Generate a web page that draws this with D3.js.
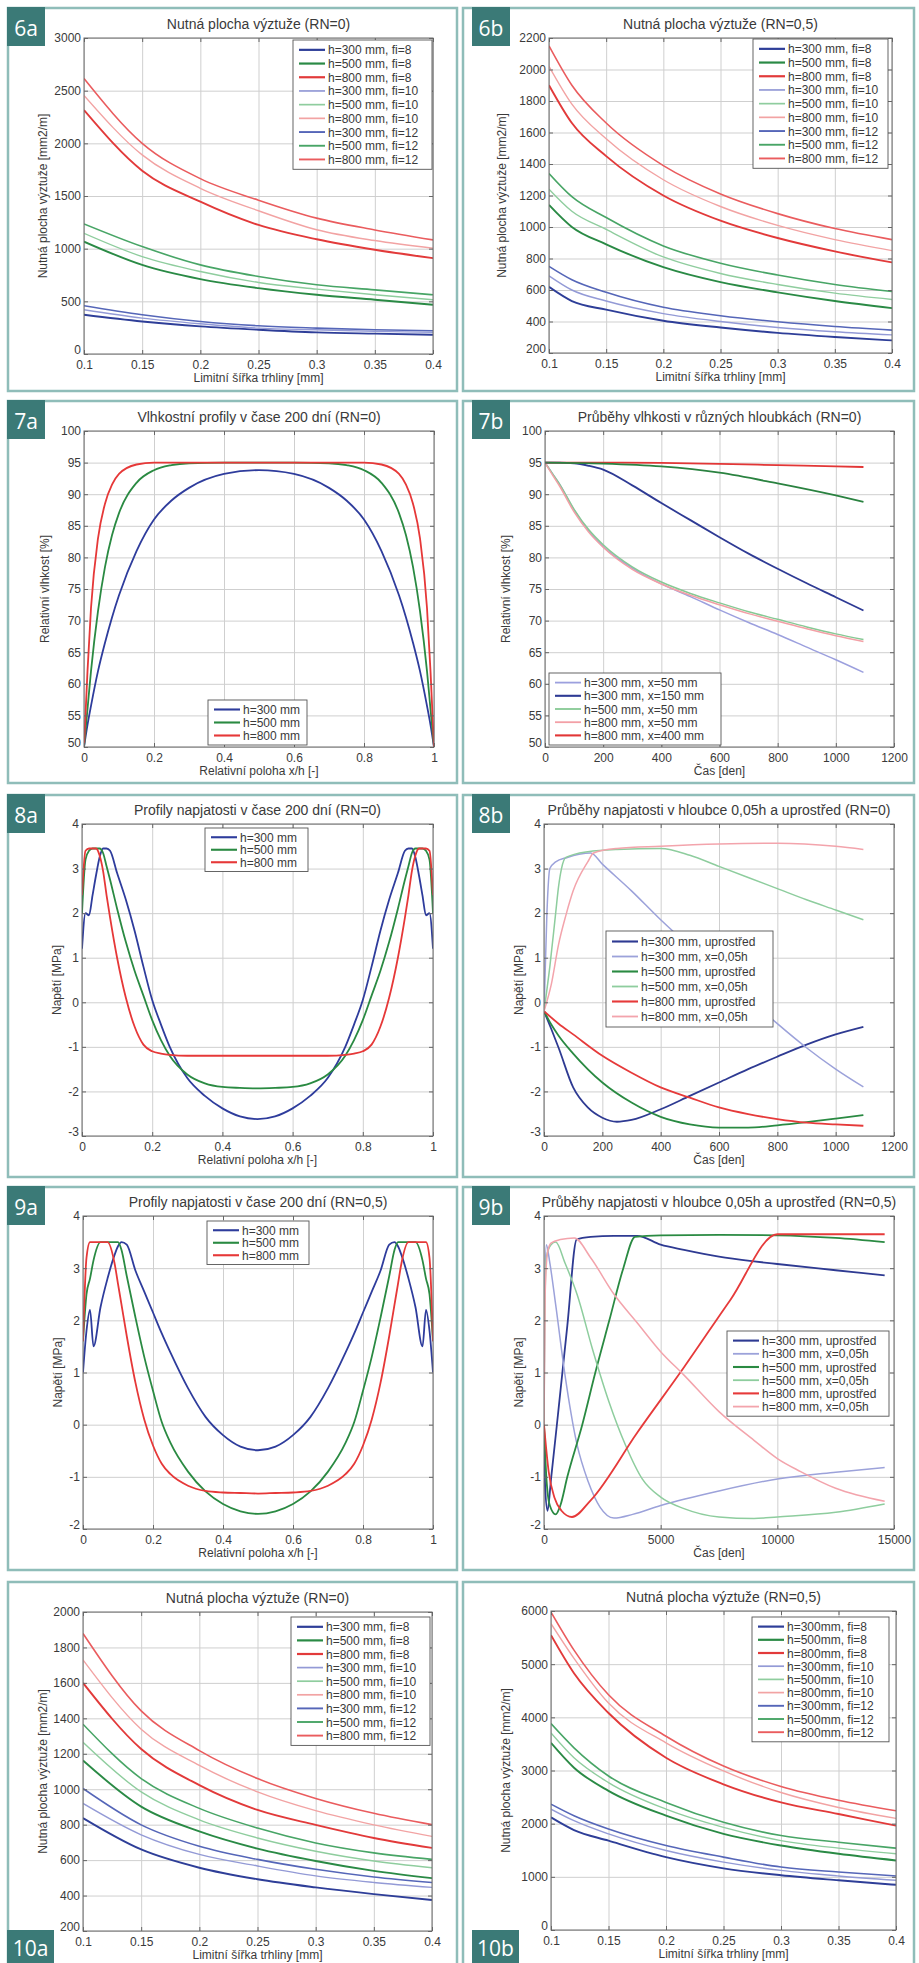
<!DOCTYPE html>
<html>
<head>
<meta charset="utf-8">
<script src="https://cdn.jsdelivr.net/npm/d3@7"></script>
<style>
body { margin: 0; background: #fff; }
text { font-family: "Liberation Sans", Arial, sans-serif; fill: #3a3a3a; }
.grid line { stroke: #cfcfcf; stroke-width: 1; }
.grid .domain { display: none; }
.ax .domain { display: none; }
.ax line { stroke: #666; }
.ax text { font-size: 12px; fill: #3a3a3a; }
.lbl text { font-family: "Open Sans", sans-serif; fill: #fff; }
</style>
</head>
<body>
<script>
// ---------- data ----------
// crack width axis (6a, 10a)
var xCrack = [0.1, 0.15, 0.2, 0.25, 0.3, 0.35, 0.4];
// crack width axis with the kink at 0.12 (6b, 10b)
var xCrackK = [0.1, 0.12, 0.15, 0.2, 0.25, 0.3, 0.35, 0.4];

// 6a  Nutna plocha vyztuze (RN=0)
var a6_300_8 = [373, 309, 262, 230, 205, 193, 183];
var a6_500_8 = [1067, 846, 711, 625, 562, 515, 467];
var a6_800_8 = [2315, 1740, 1446, 1225, 1089, 990, 910];
var a6_300_10 = [420, 341, 287, 246, 230, 215, 205];
var a6_500_10 = [1146, 925, 783, 679, 616, 562, 515];
var a6_800_10 = [2455, 1890, 1573, 1360, 1180, 1077, 1004];
var a6_300_12 = [458, 373, 309, 268, 246, 230, 221];
var a6_500_12 = [1235, 1020, 846, 736, 657, 609, 562];
var a6_800_12 = [2615, 2000, 1665, 1460, 1290, 1178, 1083];

// 6b  Nutna plocha vyztuze (RN=0,5)
var b6_300_8 = [620, 530, 475, 405, 362, 328, 302, 280];
var b6_500_8 = [1140, 1000, 890, 745, 650, 585, 530, 485];
var b6_800_8 = [1900, 1660, 1450, 1200, 1040, 930, 845, 775];
var b6_300_10 = [690, 600, 530, 450, 400, 362, 335, 315];
var b6_500_10 = [1240, 1100, 985, 810, 705, 635, 580, 540];
var b6_800_10 = [2020, 1780, 1560, 1300, 1130, 1010, 920, 850];
var b6_300_12 = [750, 665, 585, 490, 437, 398, 368, 345];
var b6_500_12 = [1340, 1193, 1060, 880, 770, 695, 635, 590];
var b6_800_12 = [2150, 1900, 1660, 1390, 1210, 1085, 990, 920];

// 7a  Vlhkostni profily v case 200 dni
var x7a = [0, 0.01, 0.02, 0.04, 0.06, 0.08, 0.1, 0.15, 0.2, 0.25, 0.3, 0.4, 0.5,
           0.6, 0.7, 0.75, 0.8, 0.85, 0.9, 0.92, 0.94, 0.96, 0.98, 0.99, 1];
var rh7a_300 = [50, 53.5, 56.5, 62, 66.5, 70.5, 74, 81, 86, 89, 91, 93.2, 93.8,
                93.2, 91, 89, 86, 81, 74, 70.5, 66.5, 62, 56.5, 53.5, 50];
var rh7a_500 = [50, 56, 62, 71.5, 78.5, 83.5, 87, 91.8, 93.8, 94.6, 94.9, 95, 95,
                95, 94.9, 94.6, 93.8, 91.8, 87, 83.5, 78.5, 71.5, 62, 56, 50];
var rh7a_800 = [50, 62, 72, 83, 88.5, 91.5, 93.2, 94.7, 95, 95, 95, 95, 95,
                95, 95, 95, 95, 94.7, 93.2, 91.5, 88.5, 83, 72, 62, 50];

// 7b  Prubehy vlhkosti v ruznych hloubkach
var t7 = [0, 25, 50, 100, 150, 200, 300, 400, 500, 600, 700, 800, 900, 1000, 1095];
var rh7b_300_50 = [95, 93.3, 91.6, 87.5, 84.2, 81.7, 78.3, 75.8, 73.8, 71.7, 69.7, 67.8, 65.8, 63.8, 61.8];
var rh7b_500_50 = [95, 93.3, 91.6, 87.6, 84.4, 82.0, 78.5, 76.1, 74.3, 72.8, 71.4, 70.2, 69.0, 67.9, 67.0];
var rh7b_800_50 = [95, 93.1, 91.3, 87.2, 84.0, 81.6, 78.1, 75.8, 74.0, 72.5, 71.1, 69.9, 68.7, 67.6, 66.7];
var t7s = [0, 50, 100, 150, 200, 300, 400, 500, 600, 700, 800, 900, 1000, 1095];
var rh7b_300_150 = [95, 95, 94.9, 94.5, 93.9, 91.4, 88.6, 85.9, 83.2, 80.6, 78.2, 75.9, 73.7, 71.6];
var t7l = [0, 200, 400, 600, 800, 1000, 1095];
var rh7b_500_250 = [95, 94.85, 94.4, 93.4, 91.7, 89.8, 88.8];
var rh7b_800_400 = [95, 95, 94.95, 94.8, 94.6, 94.4, 94.3];

// 8a  Profily napjatosti v case 200 dni (RN=0)
var x8a = [0, 0.01, 0.02, 0.03, 0.04, 0.05, 0.06, 0.07, 0.08, 0.1, 0.125, 0.15, 0.175, 0.2, 0.225, 0.25,
           0.3, 0.35, 0.4, 0.45, 0.5, 0.55, 0.6, 0.65, 0.7, 0.75, 0.775, 0.8, 0.825, 0.85, 0.875,
           0.9, 0.92, 0.93, 0.94, 0.95, 0.96, 0.97, 0.98, 0.99, 1];
var s8a_300 = [1.2, 2.0, 1.95, 2.4, 2.85, 3.25, 3.45, 3.45, 3.4, 2.9, 2.3, 1.6, 0.8, 0.05, -0.5, -1.0,
               -1.7, -2.1, -2.38, -2.56, -2.62, -2.56, -2.38, -2.1, -1.7, -1.0, -0.5, 0.05, 0.8, 1.6, 2.3,
               2.9, 3.4, 3.45, 3.45, 3.25, 2.85, 2.4, 1.95, 2.0, 1.2];
var s8a_500 = [2.0, 3.2, 3.4, 3.45, 3.45, 3.45, 3.35, 3.05, 2.75, 2.1, 1.35, 0.7, 0.15, -0.4, -0.85, -1.2,
               -1.62, -1.82, -1.9, -1.92, -1.93, -1.92, -1.9, -1.82, -1.62, -1.2, -0.85, -0.4, 0.15, 0.7, 1.35,
               2.1, 2.75, 3.05, 3.35, 3.45, 3.45, 3.45, 3.4, 3.2, 2.0];
var s8a_800 = [2.4, 3.4, 3.45, 3.45, 3.45, 3.3, 2.95, 2.4, 1.9, 1.0, 0.1, -0.55, -0.95, -1.1, -1.15, -1.18,
               -1.2, -1.2, -1.2, -1.2, -1.2, -1.2, -1.2, -1.2, -1.2, -1.18, -1.15, -1.1, -0.95, -0.55, 0.1,
               1.0, 1.9, 2.4, 2.95, 3.3, 3.45, 3.45, 3.45, 3.4, 2.4];

// 8b  Prubehy napjatosti v hloubce 0,05h a uprostred (RN=0)
var t8_300m = [0, 25, 50, 100, 150, 200, 250, 300, 400, 500, 600, 700, 800, 900, 1000, 1095];
var s8_300m = [-0.2, -0.6, -1.02, -1.91, -2.36, -2.59, -2.68, -2.64, -2.4, -2.1, -1.8, -1.5, -1.22, -0.95, -0.72, -0.55];
var t8_300e = [0, 10, 20, 40, 80, 120, 160, 200, 300, 400, 500, 600, 700, 800, 900, 1000, 1095];
var s8_300e = [-0.2, 2.0, 3.0, 3.15, 3.25, 3.32, 3.35, 3.1, 2.5, 1.85, 1.25, 0.68, 0.1, -0.48, -1.02, -1.5, -1.9];
var t8_500m = [0, 25, 50, 100, 200, 300, 400, 500, 600, 700, 800, 900, 1000, 1095];
var s8_500m = [-0.2, -0.5, -0.75, -1.15, -1.8, -2.25, -2.57, -2.74, -2.81, -2.81, -2.76, -2.69, -2.61, -2.53];
var t8_500e = [0, 20, 40, 50, 60, 75, 150, 250, 400, 500, 600, 700, 800, 900, 1000, 1095];
var s8_500e = [-0.2, 0.8, 2.0, 2.6, 3.0, 3.25, 3.38, 3.43, 3.45, 3.3, 3.05, 2.8, 2.55, 2.3, 2.07, 1.85];
var t8_800m = [0, 50, 100, 200, 300, 400, 500, 600, 700, 800, 900, 1000, 1095];
var s8_800m = [-0.2, -0.48, -0.72, -1.2, -1.58, -1.91, -2.14, -2.36, -2.51, -2.62, -2.7, -2.74, -2.77];
var t8_800e = [0, 25, 50, 75, 100, 150, 170, 250, 400, 600, 800, 1000, 1095];
var s8_800e = [-0.2, 0.4, 1.3, 1.95, 2.5, 3.15, 3.35, 3.45, 3.5, 3.55, 3.57, 3.5, 3.43];

// 9a  Profily napjatosti v case 200 dni (RN=0,5)
var x9a = [0, 0.01, 0.02, 0.03, 0.05, 0.07, 0.09, 0.1, 0.11, 0.125, 0.15, 0.175, 0.2, 0.225, 0.25,
           0.3, 0.35, 0.4, 0.45, 0.5, 0.55, 0.6, 0.65, 0.7, 0.75, 0.775, 0.8, 0.825, 0.85, 0.875,
           0.89, 0.9, 0.91, 0.93, 0.95, 0.97, 0.98, 0.99, 1];
var s9a_300 = [1.0, 1.8, 2.2, 1.5, 2.25, 2.8, 3.25, 3.42, 3.5, 3.45, 2.95, 2.55, 2.15, 1.75, 1.38,
               0.7, 0.15, -0.2, -0.42, -0.49, -0.42, -0.2, 0.15, 0.7, 1.38, 1.75, 2.15, 2.55, 2.95, 3.45,
               3.5, 3.42, 3.25, 2.8, 2.25, 1.5, 2.2, 1.8, 1.0];
var s9a_500 = [1.6, 2.5, 2.8, 3.15, 3.5, 3.5, 3.5, 3.5, 3.35, 2.85, 2.05, 1.3, 0.65, 0.05, -0.35,
               -0.9, -1.28, -1.52, -1.66, -1.71, -1.66, -1.52, -1.28, -0.9, -0.35, 0.05, 0.65, 1.3, 2.05, 2.85,
               3.35, 3.5, 3.5, 3.5, 3.5, 3.15, 2.8, 2.5, 1.6];
var s9a_800 = [1.6, 3.2, 3.5, 3.5, 3.5, 3.5, 3.1, 2.7, 2.3, 1.7, 0.8, 0.1, -0.4, -0.75, -0.95,
               -1.17, -1.27, -1.3, -1.31, -1.32, -1.31, -1.3, -1.27, -1.17, -0.95, -0.75, -0.4, 0.1, 0.8, 1.7,
               2.3, 2.7, 3.1, 3.5, 3.5, 3.5, 3.5, 3.2, 1.6];

// 9b  Prubehy napjatosti v hloubce 0,05h a uprostred (RN=0,5)
var t9_300m = [0, 50, 150, 300, 600, 1000, 1400, 2000, 3000, 4000, 5000, 6000, 7500, 9000, 10000, 12500, 14600];
var s9_300m = [0, -1.2, -1.65, -1.05, 0.2, 1.9, 3.55, 3.6, 3.62, 3.62, 3.45, 3.35, 3.22, 3.13, 3.08, 2.96, 2.86];
var t9_300e = [0, 30, 100, 250, 500, 900, 1400, 1900, 2400, 3000, 3800, 5000, 7500, 10000, 12500, 14600];
var s9_300e = [0, 2.5, 3.45, 3.1, 2.3, 0.95, -0.35, -1.1, -1.58, -1.79, -1.72, -1.55, -1.27, -1.04, -0.91, -0.82];
var t9_500m = [0, 100, 250, 500, 700, 1000, 1640, 2200, 2800, 3400, 3900, 5000, 7500, 10000, 12500, 14600];
var s9_500m = [0, -1.0, -1.55, -1.72, -1.55, -1.0, 0, 1.0, 2.0, 3.0, 3.6, 3.63, 3.64, 3.63, 3.58, 3.5];
var t9_500e = [0, 30, 100, 300, 500, 900, 1430, 2070, 2790, 3500, 4210, 5000, 6000, 7500, 9000, 10000, 12500, 14600];
var s9_500e = [0, 2.0, 3.2, 3.45, 3.5, 3.1, 2.48, 1.46, 0.43, -0.4, -1.04, -1.39, -1.61, -1.77, -1.8, -1.77, -1.68, -1.52];
var t9_800m = [0, 200, 450, 750, 1200, 2000, 4000, 6000, 8000, 10000, 12500, 14600];
var s9_800m = [0, -0.9, -1.4, -1.65, -1.77, -1.45, -0.15, 1.1, 2.4, 3.65, 3.65, 3.65];
var t9_800e = [0, 50, 150, 300, 700, 1300, 2000, 3000, 4000, 5000, 6000, 7500, 9000, 10000, 11000, 12500, 14600];
var s9_800e = [0, 2.5, 3.3, 3.48, 3.55, 3.58, 3.2, 2.5, 1.95, 1.4, 0.95, 0.25, -0.3, -0.65, -0.9, -1.22, -1.47];

// 10a  Nutna plocha vyztuze (RN=0)
var a10_300_8 = [837, 660, 557, 492, 446, 408, 375];
var a10_500_8 = [1162, 902, 762, 665, 595, 539, 498];
var a10_800_8 = [1600, 1227, 1023, 883, 799, 725, 669];
var a10_300_10 = [920, 743, 632, 567, 511, 474, 446];
var a10_500_10 = [1265, 985, 827, 725, 650, 595, 557];
var a10_800_10 = [1730, 1339, 1134, 985, 879, 799, 734];
var a10_300_12 = [1004, 799, 678, 604, 548, 505, 474];
var a10_500_12 = [1367, 1060, 892, 781, 697, 641, 604];
var a10_800_12 = [1879, 1442, 1218, 1060, 948, 864, 800];

// 10b  Nutna plocha vyztuze (RN=0,5)
var b10_300_8 = [2118, 1880, 1680, 1370, 1160, 1030, 935, 850];
var b10_500_8 = [3520, 3053, 2617, 2150, 1807, 1589, 1433, 1308];
var b10_800_8 = [5545, 4829, 4081, 3240, 2741, 2399, 2181, 1963];
var b10_300_10 = [2274, 2056, 1807, 1495, 1277, 1121, 1016, 935];
var b10_500_10 = [3707, 3240, 2773, 2274, 1931, 1682, 1539, 1433];
var b10_800_10 = [5763, 5109, 4268, 3520, 2991, 2586, 2305, 2100];
var b10_300_12 = [2368, 2150, 1900, 1589, 1371, 1184, 1090, 1016];
var b10_500_12 = [3882, 3427, 2897, 2399, 2025, 1776, 1651, 1539];
var b10_800_12 = [5980, 5265, 4424, 3645, 3084, 2700, 2440, 2243];

// tick values
var ticksCrack = [0.1, 0.15, 0.2, 0.25, 0.3, 0.35, 0.4];
var ticks6a = [0, 500, 1000, 1500, 2000, 2500, 3000];
var ticks6b = [200, 400, 600, 800, 1000, 1200, 1400, 1600, 1800, 2000, 2200];
var ticksRel = [0, 0.2, 0.4, 0.6, 0.8, 1];
var ticksRH = [50, 55, 60, 65, 70, 75, 80, 85, 90, 95, 100];
var ticksDays = [0, 200, 400, 600, 800, 1000, 1200];
var ticksS8 = [-3, -2, -1, 0, 1, 2, 3, 4];
var ticksS9 = [-2, -1, 0, 1, 2, 3, 4];
var ticksDays9 = [0, 5000, 10000, 15000];
var ticks10a = [200, 400, 600, 800, 1000, 1200, 1400, 1600, 1800, 2000];
var ticks10b = [0, 1000, 2000, 3000, 4000, 5000, 6000];

// legend names
var namesFi = ["h=300 mm, fi=8", "h=500 mm, fi=8", "h=800 mm, fi=8",
               "h=300 mm, fi=10", "h=500 mm, fi=10", "h=800 mm, fi=10",
               "h=300 mm, fi=12", "h=500 mm, fi=12", "h=800 mm, fi=12"];
var namesFi2 = ["h=300mm, fi=8", "h=500mm, fi=8", "h=800mm, fi=8",
                "h=300mm, fi=10", "h=500mm, fi=10", "h=800mm, fi=10",
                "h=300mm, fi=12", "h=500mm, fi=12", "h=800mm, fi=12"];
var namesH = ["h=300 mm", "h=500 mm", "h=800 mm"];
var names7b = ["h=300 mm, x=50 mm", "h=300 mm, x=150 mm", "h=500 mm, x=50 mm",
               "h=800 mm, x=50 mm", "h=800 mm, x=400 mm"];
var namesS = ["h=300 mm, uprostřed", "h=300 mm, x=0,05h", "h=500 mm, uprostřed",
              "h=500 mm, x=0,05h", "h=800 mm, uprostřed", "h=800 mm, x=0,05h"];

// ---------- styles ----------
var fiColors = ["#2e3e98", "#2a8a45", "#e23a3a", "#939ad6", "#8fcd9e", "#f2a3a3", "#5566b8", "#48a566", "#ea5c5e"];
var fiWidths = [1.9, 1.9, 1.9, 1.4, 1.4, 1.4, 1.6, 1.6, 1.6];
var hColors = ["#2e3c9c", "#2a8a42", "#e63838"];
var sColors = ["#2e3a92", "#9ca2da", "#2a8a42", "#8ecd9e", "#e63a3a", "#f3a4ac"];
var sWidths = [1.8, 1.5, 1.8, 1.5, 1.8, 1.5];

var svg = d3.select("body").append("svg")
    .attr("width", 919)
    .attr("height", 1963);

// frames of the panels
var rowTop = [8, 401, 795, 1187, 1582];
var rowBot = [391, 783, 1177, 1570, 1990];
var colL = [8, 463];
var colR = [457, 914];

function frame(col, row, label, atBottom) {
    svg.append("rect")
        .attr("x", colL[col]).attr("y", rowTop[row])
        .attr("width", colR[col] - colL[col]).attr("height", rowBot[row] - rowTop[row])
        .attr("fill", "none").attr("stroke", "#8fbdb9").attr("stroke-width", 2.5);
    var w = label.length > 2 ? 47 : 38;
    var bx = col == 0 ? 7 : 472;
    var by = atBottom ? 1930 : rowTop[row] - 1;
    var bh = atBottom ? 34 : 39;
    var g = svg.append("g").attr("class", "lbl");
    g.append("rect").attr("x", bx).attr("y", by).attr("width", w).attr("height", bh).attr("fill", "#3b7a77");
    g.append("text").attr("x", bx + w / 2).attr("y", by + bh / 2 + 1)
        .attr("text-anchor", "middle").attr("dominant-baseline", "central")
        .attr("font-size", 21).text(label);
}

function fiSeries(xs, arrs, names) {
    return arrs.map(function(a, i) {
        return { x: xs, y: a, color: fiColors[i], width: fiWidths[i], name: names[i] };
    });
}

var panelCount = 0;
function drawPanel(p) {
    panelCount++;
    var g = svg.append("g");
    var x = d3.scaleLinear().domain(p.xDom).range([p.L, p.R]);
    var y = d3.scaleLinear().domain(p.yDom).range([p.B, p.T]);
    var w = p.R - p.L, h = p.B - p.T;

    // grid
    g.append("g").attr("class", "grid").attr("transform", `translate(0, ${p.B})`)
        .call(d3.axisBottom(x).tickValues(p.xTicks).tickSize(-h).tickFormat(""));
    g.append("g").attr("class", "grid").attr("transform", `translate(${p.L}, 0)`)
        .call(d3.axisLeft(y).tickValues(p.yTicks).tickSize(-w).tickFormat(""));

    // lines
    var clipId = "clip" + panelCount;
    g.append("clipPath").attr("id", clipId).append("rect")
        .attr("x", p.L).attr("y", p.T).attr("width", w).attr("height", h);
    var line = d3.line()
        .x(d => x(d[0]))
        .y(d => y(d[1]))
        .curve(d3.curveMonotoneX);
    var lines = g.append("g").attr("clip-path", `url(#${clipId})`);
    p.series.forEach(function(s) {
        lines.append("path")
            .datum(d3.zip(s.x, s.y))
            .attr("d", line)
            .attr("fill", "none")
            .attr("stroke", s.color)
            .attr("stroke-width", s.width)
            .attr("stroke-linejoin", "round");
    });

    // box and ticks
    g.append("rect").attr("x", p.L).attr("y", p.T).attr("width", w).attr("height", h)
        .attr("fill", "none").attr("stroke", "#6a6a6a").attr("stroke-width", 1);
    var fmt = d => String(d);
    g.append("g").attr("class", "ax").attr("transform", `translate(0, ${p.B})`)
        .call(d3.axisBottom(x).tickValues(p.xTicks).tickSizeInner(-4).tickSizeOuter(0).tickPadding(6).tickFormat(fmt));
    var yAx = g.append("g").attr("class", "ax").attr("transform", `translate(${p.L}, 0)`)
        .call(d3.axisLeft(y).tickValues(p.yTicks).tickSizeInner(-4).tickSizeOuter(0).tickPadding(3).tickFormat(fmt));
    // lowest y label sits a bit higher, as in MATLAB, so it clears the x labels
    yAx.selectAll(".tick text").filter(d => d == p.yTicks[0]).attr("dy", "-0.05em");
    g.append("g").attr("class", "ax").attr("transform", `translate(0, ${p.T})`)
        .call(d3.axisTop(x).tickValues(p.xTicks).tickSizeInner(-4).tickSizeOuter(0).tickFormat(""));
    g.append("g").attr("class", "ax").attr("transform", `translate(${p.R}, 0)`)
        .call(d3.axisRight(y).tickValues(p.yTicks).tickSizeInner(-4).tickSizeOuter(0).tickFormat(""));

    // texts
    g.append("text").attr("x", (p.L + p.R) / 2).attr("y", p.T - 14)
        .attr("text-anchor", "middle").attr("dominant-baseline", "central")
        .attr("font-size", 14).text(p.title);
    g.append("text").attr("x", (p.L + p.R) / 2).attr("y", p.B + 24)
        .attr("text-anchor", "middle").attr("dominant-baseline", "central")
        .attr("font-size", 12).text(p.xLabel);
    g.append("text")
        .attr("transform", `translate(${p.yLabelX}, ${(p.T + p.B) / 2}) rotate(-90)`)
        .attr("text-anchor", "middle").attr("dominant-baseline", "central")
        .attr("font-size", 12).text(p.yLabel);

    // legend
    var lg = p.legend;
    var items = p.series.filter(s => s.name);
    var lh = items.length * lg.rowH + 6;
    var leg = g.append("g");
    leg.append("rect").attr("x", lg.x).attr("y", lg.y).attr("width", lg.w).attr("height", lh)
        .attr("fill", "#fff").attr("stroke", "#555").attr("stroke-width", 0.9);
    items.forEach(function(s, i) {
        var cy = lg.y + 3 + lg.rowH * (i + 0.5);
        leg.append("line").attr("x1", lg.x + 6).attr("x2", lg.x + 32).attr("y1", cy).attr("y2", cy)
            .attr("stroke", s.color).attr("stroke-width", s.width + 0.3);
        leg.append("text").attr("x", lg.x + 35).attr("y", cy + 0.5)
            .attr("dominant-baseline", "central").attr("font-size", 12).text(s.name);
    });
}

// ---------- panels ----------
var labReinf = "Nutná plocha výztuže [mm2/m]";
var labCrack = "Limitní šířka trhliny [mm]";
var labRel = "Relativní poloha x/h [-]";

frame(0, 0, "6a", false);
drawPanel({
    L: 84, R: 433, T: 38, B: 354, xDom: [0.1, 0.4], yDom: [0, 3000],
    xTicks: ticksCrack, yTicks: ticks6a,
    title: "Nutná plocha výztuže (RN=0)", xLabel: labCrack, yLabel: labReinf, yLabelX: 43,
    series: fiSeries(xCrack, [a6_300_8, a6_500_8, a6_800_8, a6_300_10, a6_500_10, a6_800_10, a6_300_12, a6_500_12, a6_800_12], namesFi),
    legend: { x: 293, y: 40, w: 139, rowH: 13.7 }
});

frame(1, 0, "6b", false);
drawPanel({
    L: 549, R: 892, T: 38, B: 353, xDom: [0.1, 0.4], yDom: [200, 2200],
    xTicks: ticksCrack, yTicks: ticks6b,
    title: "Nutná plocha výztuže (RN=0,5)", xLabel: labCrack, yLabel: labReinf, yLabelX: 502,
    series: fiSeries(xCrackK, [b6_300_8, b6_500_8, b6_800_8, b6_300_10, b6_500_10, b6_800_10, b6_300_12, b6_500_12, b6_800_12], namesFi),
    legend: { x: 753, y: 39, w: 135, rowH: 13.7 }
});

frame(0, 1, "7a", false);
drawPanel({
    L: 84, R: 434, T: 431, B: 747, xDom: [0, 1], yDom: [50, 100],
    xTicks: ticksRel, yTicks: ticksRH,
    title: "Vlhkostní profily v čase 200 dní (RN=0)", xLabel: labRel, yLabel: "Relativní vlhkost [%]", yLabelX: 45,
    series: [
        { x: x7a, y: rh7a_300, color: hColors[0], width: 1.8, name: namesH[0] },
        { x: x7a, y: rh7a_500, color: hColors[1], width: 1.8, name: namesH[1] },
        { x: x7a, y: rh7a_800, color: hColors[2], width: 1.8, name: namesH[2] }
    ],
    legend: { x: 208, y: 700, w: 99, rowH: 13 }
});

frame(1, 1, "7b", false);
drawPanel({
    L: 545, R: 894, T: 431, B: 747, xDom: [0, 1200], yDom: [50, 100],
    xTicks: ticksDays, yTicks: ticksRH,
    title: "Průběhy vlhkosti v různých hloubkách (RN=0)", xLabel: "Čas [den]", yLabel: "Relativní vlhkost [%]", yLabelX: 506,
    series: [
        { x: t7, y: rh7b_300_50, color: "#9ca0de", width: 1.5, name: names7b[0] },
        { x: t7s, y: rh7b_300_150, color: "#2e3a94", width: 1.8, name: names7b[1] },
        { x: t7, y: rh7b_500_50, color: "#86c994", width: 1.5, name: names7b[2] },
        { x: t7, y: rh7b_800_50, color: "#f3a0a6", width: 1.5, name: names7b[3] },
        { x: t7l, y: rh7b_800_400, color: "#e23636", width: 1.8, name: names7b[4] },
        { x: t7l, y: rh7b_500_250, color: "#2a8240", width: 1.8, name: null }
    ],
    legend: { x: 549, y: 673, w: 172, rowH: 13.2 }
});

frame(0, 2, "8a", false);
drawPanel({
    L: 82, R: 433, T: 824, B: 1136, xDom: [0, 1], yDom: [-3, 4],
    xTicks: ticksRel, yTicks: ticksS8,
    title: "Profily napjatosti v čase 200 dní (RN=0)", xLabel: labRel, yLabel: "Napětí [MPa]", yLabelX: 57,
    series: [
        { x: x8a, y: s8a_300, color: hColors[0], width: 1.8, name: namesH[0] },
        { x: x8a, y: s8a_500, color: hColors[1], width: 1.8, name: namesH[1] },
        { x: x8a, y: s8a_800, color: hColors[2], width: 1.8, name: namesH[2] }
    ],
    legend: { x: 205, y: 828, w: 103, rowH: 12.5 }
});

frame(1, 2, "8b", false);
drawPanel({
    L: 544, R: 894, T: 824, B: 1136, xDom: [0, 1200], yDom: [-3, 4],
    xTicks: ticksDays, yTicks: ticksS8,
    title: "Průběhy napjatosti v hloubce 0,05h a uprostřed (RN=0)", xLabel: "Čas [den]", yLabel: "Napětí [MPa]", yLabelX: 519,
    series: [
        { x: t8_300m, y: s8_300m, color: sColors[0], width: sWidths[0], name: namesS[0] },
        { x: t8_300e, y: s8_300e, color: sColors[1], width: sWidths[1], name: namesS[1] },
        { x: t8_500m, y: s8_500m, color: sColors[2], width: sWidths[2], name: namesS[2] },
        { x: t8_500e, y: s8_500e, color: sColors[3], width: sWidths[3], name: namesS[3] },
        { x: t8_800m, y: s8_800m, color: sColors[4], width: sWidths[4], name: namesS[4] },
        { x: t8_800e, y: s8_800e, color: sColors[5], width: sWidths[5], name: namesS[5] }
    ],
    legend: { x: 606, y: 931, w: 167, rowH: 15 }
});

frame(0, 3, "9a", false);
drawPanel({
    L: 83, R: 433, T: 1216, B: 1529, xDom: [0, 1], yDom: [-2, 4],
    xTicks: ticksRel, yTicks: ticksS9,
    title: "Profily napjatosti v čase 200 dní (RN=0,5)", xLabel: labRel, yLabel: "Napětí [MPa]", yLabelX: 58,
    series: [
        { x: x9a, y: s9a_300, color: hColors[0], width: 1.8, name: namesH[0] },
        { x: x9a, y: s9a_500, color: hColors[1], width: 1.8, name: namesH[1] },
        { x: x9a, y: s9a_800, color: hColors[2], width: 1.8, name: namesH[2] }
    ],
    legend: { x: 207, y: 1221, w: 102, rowH: 12.5 }
});

frame(1, 3, "9b", false);
drawPanel({
    L: 544, R: 894, T: 1216, B: 1529, xDom: [0, 15000], yDom: [-2, 4],
    xTicks: ticksDays9, yTicks: ticksS9,
    title: "Průběhy napjatosti v hloubce 0,05h a uprostřed (RN=0,5)", xLabel: "Čas [den]", yLabel: "Napětí [MPa]", yLabelX: 519,
    series: [
        { x: t9_300m, y: s9_300m, color: sColors[0], width: sWidths[0], name: namesS[0] },
        { x: t9_300e, y: s9_300e, color: sColors[1], width: sWidths[1], name: namesS[1] },
        { x: t9_500m, y: s9_500m, color: sColors[2], width: sWidths[2], name: namesS[2] },
        { x: t9_500e, y: s9_500e, color: sColors[3], width: sWidths[3], name: namesS[3] },
        { x: t9_800m, y: s9_800m, color: sColors[4], width: sWidths[4], name: namesS[4] },
        { x: t9_800e, y: s9_800e, color: sColors[5], width: sWidths[5], name: namesS[5] }
    ],
    legend: { x: 727, y: 1331, w: 162, rowH: 13.2 }
});

frame(0, 4, "10a", true);
drawPanel({
    L: 83, R: 432, T: 1612, B: 1931, xDom: [0.1, 0.4], yDom: [200, 2000],
    xTicks: ticksCrack, yTicks: ticks10a,
    title: "Nutná plocha výztuže (RN=0)", xLabel: labCrack, yLabel: labReinf, yLabelX: 43,
    series: fiSeries(xCrack, [a10_300_8, a10_500_8, a10_800_8, a10_300_10, a10_500_10, a10_800_10, a10_300_12, a10_500_12, a10_800_12], namesFi),
    legend: { x: 291, y: 1617, w: 139, rowH: 13.6 }
});

frame(1, 4, "10b", true);
drawPanel({
    L: 551, R: 896, T: 1611, B: 1930, xDom: [0.1, 0.4], yDom: [0, 6000],
    xTicks: ticksCrack, yTicks: ticks10b,
    title: "Nutná plocha výztuže (RN=0,5)", xLabel: labCrack, yLabel: "Nutná plocha výztuže [mm2/m]", yLabelX: 506,
    series: fiSeries(xCrackK, [b10_300_8, b10_500_8, b10_800_8, b10_300_10, b10_500_10, b10_800_10, b10_300_12, b10_500_12, b10_800_12], namesFi2),
    legend: { x: 752, y: 1617, w: 137, rowH: 13.2 }
});
</script>
</body>
</html>
